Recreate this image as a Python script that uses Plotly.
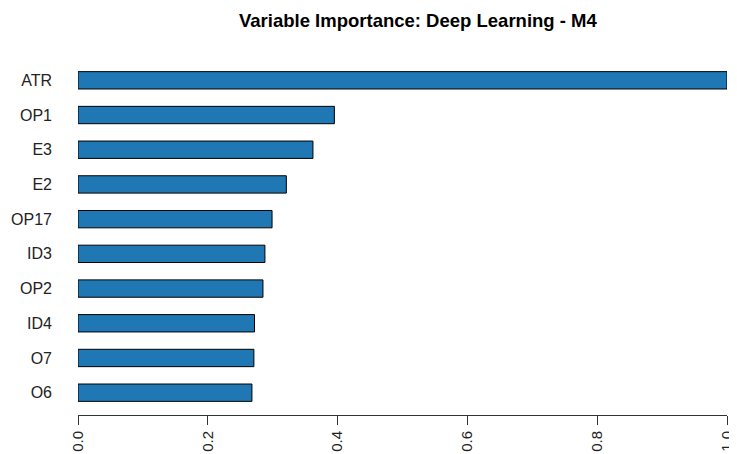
import plotly.graph_objects as go

# Variable importance (scaled), top to bottom as in the reference
variables = ["ATR", "OP1", "E3", "E2", "OP17", "ID3", "OP2", "ID4", "O7", "O6"]
importance = [1.0, 0.395, 0.362, 0.321, 0.299, 0.288, 0.285, 0.272, 0.271, 0.268]
x_ticks = [0.0, 0.2, 0.4, 0.6, 0.8, 1.0]
x_tick_labels = ["0.0", "0.2", "0.4", "0.6", "0.8", "1.0"]

BAR_COLOR = "#1f77b4"
FONT = "Liberation Sans, Arial, sans-serif"

# plotly draws the first category at the bottom, so reverse
ys = variables[::-1]
xs = importance[::-1]

# the page body has an 8px margin, so the figure is 8px smaller
# and the left/top margins are 8px less
fig = go.Figure(
    go.Bar(
        x=xs, y=ys, orientation="h",
        marker=dict(color=BAR_COLOR, line=dict(color="black", width=1)),
    )
)

fig.update_layout(
    width=729, height=446,
    margin=dict(l=70, r=10, t=50, b=39),
    paper_bgcolor="white", plot_bgcolor="white",
    bargap=0.5,
    showlegend=False,
    font=dict(family=FONT, size=16, color="black"),
)

fig.update_xaxes(
    range=[0, 1], tickvals=x_ticks, ticktext=x_tick_labels,
    tickangle=-90, ticks="outside", ticklen=9, tickcolor="#333",
    showline=True, linecolor="#333", linewidth=1,
    showgrid=False, zeroline=False, automargin=False,
    tickfont=dict(size=15, color="#222"),
)
fig.update_yaxes(
    categoryorder="array", categoryarray=ys,
    range=[-0.643, len(ys) - 1 + 0.643],
    showline=False, showgrid=False, zeroline=False,
    ticks="", ticklabelstandoff=25, automargin=False,
    tickfont=dict(size=16, color="#222"),
)

# ── Заголовок ────────────────────────────────────────────────
fig.add_annotation(
    text="<b>Variable Importance: Deep Learning - M4</b>",
    xref="paper", yref="paper", x=(417.5 - 77.5) / 649, y=1,
    yshift=38, showarrow=False, xanchor="center", yanchor="middle",
    font=dict(family=FONT, size=18.5, color="black"),
)

fig.write_html("out.html")
